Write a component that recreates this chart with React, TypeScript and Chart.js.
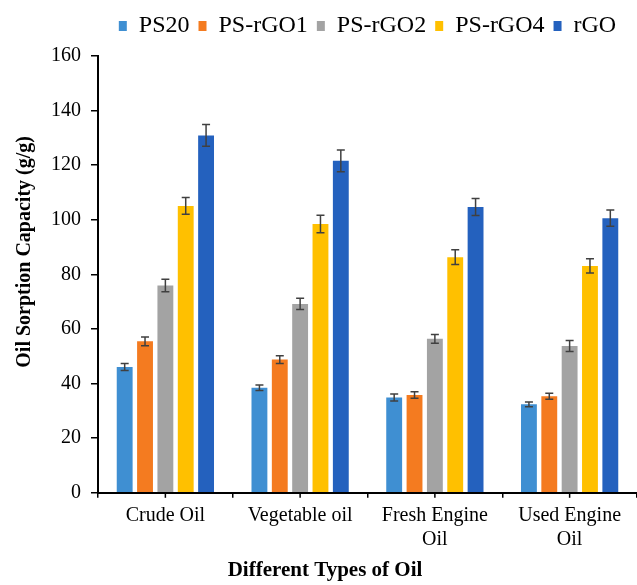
import React, { useEffect, useRef } from "react";
import { Chart, registerables } from "chart.js";

Chart.register(...registerables);

const categories: string[][] = [["Crude Oil"], ["Vegetable oil"], ["Fresh Engine", "Oil"], ["Used Engine", "Oil"]];
const seriesNames = ["PS20", "PS-rGO1", "PS-rGO2", "PS-rGO4", "rGO"];
const seriesColors = ["#3F8FD2", "#F47B20", "#A3A3A3", "#FFC000", "#2461BE"];

const ps20 = [46.1, 38.5, 34.9, 32.4];
const psRGO1 = [55.5, 48.8, 35.8, 35.4];
const psRGO2 = [75.9, 69.2, 56.4, 53.8];
const psRGO4 = [105.1, 98.5, 86.3, 83.1];
const rGO = [130.9, 121.6, 104.7, 100.6];

const ps20Err = [1.3, 1.0, 1.3, 0.9];
const psRGO1Err = [1.6, 1.4, 1.2, 1.1];
const psRGO2Err = [2.3, 2.1, 1.6, 2.0];
const psRGO4Err = [3.1, 3.2, 2.7, 2.6];
const rGOErr = [4.0, 4.0, 3.1, 3.0];

const yTicks = [0, 20, 40, 60, 80, 100, 120, 140, 160];

const allValues = [ps20, psRGO1, psRGO2, psRGO4, rGO];
const allErrors = [ps20Err, psRGO1Err, psRGO2Err, psRGO4Err, rGOErr];

const FONT = "'Liberation Serif', 'Times New Roman', serif";

const errorBarPlugin = {
  id: "errorBars",
  afterDatasetsDraw(chart: any) {
    const ctx = chart.ctx;
    const y = chart.scales.y;
    ctx.save();
    ctx.strokeStyle = "#404040";
    ctx.lineWidth = 1.5;
    chart.data.datasets.forEach((ds: any, di: number) => {
      const meta = chart.getDatasetMeta(di);
      meta.data.forEach((el: any, i: number) => {
        const v = ds.data[i];
        const e = ds.errors[i];
        const top = y.getPixelForValue(v + e);
        const bot = y.getPixelForValue(v - e);
        const x = el.x;
        const cap = 4;
        ctx.beginPath();
        ctx.moveTo(x, top);
        ctx.lineTo(x, bot);
        ctx.moveTo(x - cap, top);
        ctx.lineTo(x + cap, top);
        ctx.moveTo(x - cap, bot);
        ctx.lineTo(x + cap, bot);
        ctx.stroke();
      });
    });
    ctx.restore();
  },
};

const centerTickPlugin = {
  id: "centerTicks",
  afterDraw(chart: any) {
    const ctx = chart.ctx;
    const x = chart.scales.x;
    const bottom = chart.chartArea.bottom;
    ctx.save();
    ctx.strokeStyle = "#000";
    ctx.lineWidth = 1.5;
    categories.forEach((_c, i) => {
      const px = x.getPixelForValue(i);
      ctx.beginPath();
      ctx.moveTo(px, bottom);
      ctx.lineTo(px, bottom + 5);
      ctx.stroke();
    });
    ctx.restore();
  },
};

const legendSpacing = {
  id: "legendSpacing",
  beforeInit(chart: any) {
    const legend = chart.legend;
    if (!legend) return;
    const origFit = legend.fit;
    legend.fit = function () {
      origFit.call(this);
      this.height += 8;
    };
  },
};

export default function App() {
  const ref = useRef<HTMLCanvasElement | null>(null);
  useEffect(() => {
    document.body.style.margin = "0";
    if (!ref.current) return;
    const chart = new Chart(ref.current, {
      type: "bar",
      data: {
        labels: categories,
        datasets: seriesNames.map((name, i) => ({
          label: name,
          data: allValues[i],
          errors: allErrors[i],
          backgroundColor: seriesColors[i],
          borderWidth: 0,
          categoryPercentage: 0.755,
          barPercentage: 0.78,
        })) as any,
      },
      options: {
        responsive: false,
        animation: false,
        layout: { padding: { top: 5, left: 13, right: 0, bottom: 2 } },
        plugins: {
          legend: {
            position: "top",
            fullSize: false,
            labels: {
              boxWidth: 8,
              boxHeight: 10,
              padding: 9,
              color: "#000",
              font: { family: FONT, size: 24 },
            },
          },
          title: {
            display: true,
            position: "bottom",
            text: "Different Types of Oil",
            color: "#000",
            font: { family: FONT, size: 21, weight: "bold" },
            padding: { top: 0, bottom: 0 },
          },
          tooltip: { enabled: false },
        },
        scales: {
          x: {
            grid: { display: true, drawOnChartArea: false, drawTicks: true, tickLength: 5, color: "#000", lineWidth: 1.5 },
            border: { display: true, color: "#000", width: 2 },
            ticks: { color: "#000", font: { family: FONT, size: 20 }, padding: 6, maxRotation: 0, autoSkip: false },
          },
          y: {
            min: 0,
            max: 160,
            afterBuildTicks: (scale: any) => {
              scale.ticks = yTicks.map((v) => ({ value: v }));
            },
            grid: { display: true, drawOnChartArea: false, drawTicks: true, tickLength: 7, color: "#000", lineWidth: 1.5 },
            border: { display: true, color: "#000", width: 2 },
            ticks: { color: "#000", font: { family: FONT, size: 20 }, padding: 10 },
            title: {
              display: true,
              text: "         Oil Sorption Capacity (g/g)",
              color: "#000",
              font: { family: FONT, size: 20, weight: "bold" },
              padding: { top: 0, bottom: 4 },
            },
          },
        },
      },
      plugins: [errorBarPlugin, centerTickPlugin, legendSpacing],
    });
    return () => chart.destroy();
  }, []);
  return <canvas ref={ref} width={637} height={585} style={{ display: "block" }} />;
}
